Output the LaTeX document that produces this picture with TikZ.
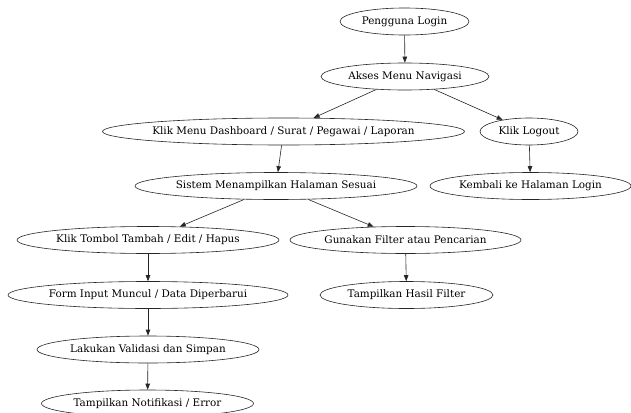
\documentclass[tikz,border=0pt]{standalone}
\usepackage{fontspec}
\setmainfont{DejaVu Serif}
\usetikzlibrary{shapes.geometric,arrows.meta}
\newcommand\lbl[1]{\makebox[0pt]{#1}}
\tikzset{
  gvnode/.style={ellipse, draw=black!85, line width=0.6pt, inner sep=0pt, minimum height=27pt, font=\fontsize{10.4}{12}\selectfont},
  gvedge/.style={draw=black!85, line width=0.6pt, -{Triangle[length=6pt,width=4.5pt]}}
}
\begin{document}
\begin{tikzpicture}[x=1pt,y=-1pt]
\useasboundingbox[fill=white] (0,0) rectangle (631,412);
\node[gvnode, minimum width=129pt] (login) at (404.5,21.5) {\lbl{Pengguna Login}};
\node[gvnode, minimum width=168pt] (akses) at (405,76.5) {\lbl{Akses Menu Navigasi}};
\node[gvnode, minimum width=362pt] (menu) at (283.5,131.5) {\lbl{Klik Menu Dashboard / Surat / Pegawai / Laporan}};
\node[gvnode, minimum width=98pt] (logout) at (529,131.5) {\lbl{Klik Logout}};
\node[gvnode, minimum width=282pt] (sistem) at (276,186) {\lbl{Sistem Menampilkan Halaman Sesuai}};
\node[gvnode, minimum width=201pt] (kembali) at (530.5,186) {\lbl{Kembali ke Halaman Login}};
\node[gvnode, minimum width=262pt] (tombol) at (148,240) {\lbl{Klik Tombol Tambah / Edit / Hapus}};
\node[gvnode, minimum width=231pt] (gunakan) at (405.5,240) {\lbl{Gunakan Filter atau Pencarian}};
\node[gvnode, minimum width=280pt] (form) at (148,295) {\lbl{Form Input Muncul / Data Diperbarui}};
\node[gvnode, minimum width=173pt] (hasil) at (406.5,295) {\lbl{Tampilkan Hasil Filter}};
\node[gvnode, minimum width=222pt] (lakukan) at (148,349.5) {\lbl{Lakukan Validasi dan Simpan}};
\node[gvnode, minimum width=212pt] (notif) at (147.5,403.5) {\lbl{Tampilkan Notifikasi / Error}};
\draw[gvedge] (login) -- (akses);
\draw[gvedge] (akses) -- (menu);
\draw[gvedge] (akses) -- (logout);
\draw[gvedge] (menu) -- (sistem);
\draw[gvedge] (logout) -- (kembali);
\draw[gvedge] (sistem) -- (tombol);
\draw[gvedge] (sistem) -- (gunakan);
\draw[gvedge] (tombol) -- (form);
\draw[gvedge] (gunakan) -- (hasil);
\draw[gvedge] (form) -- (lakukan);
\draw[gvedge] (lakukan) -- (notif);
\end{tikzpicture}
\end{document}
